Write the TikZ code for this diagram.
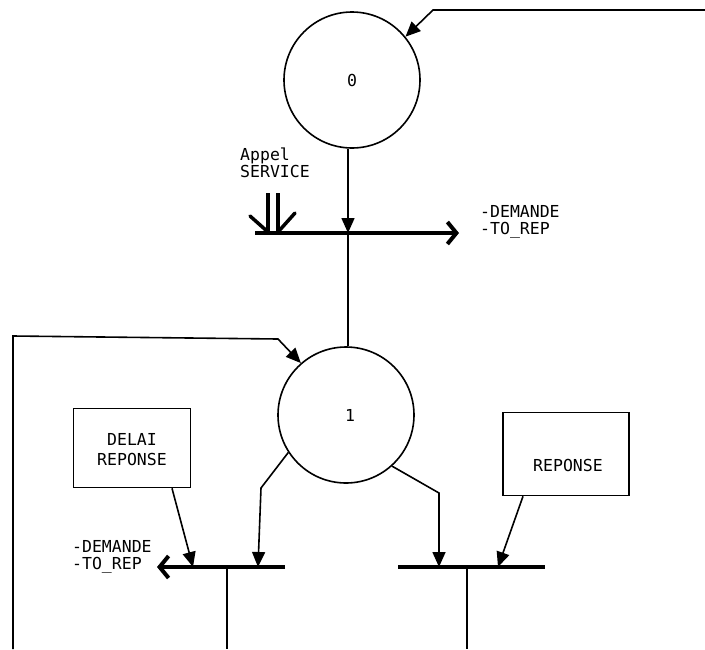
\documentclass[tikz,border=0pt]{standalone}
\usepackage{fontspec}
\setmonofont{DejaVu Sans Mono}
\usetikzlibrary{arrows.meta}
\begin{document}
\begin{tikzpicture}[x=1pt,y=-1pt,
  every node/.style={font=\ttfamily\fontsize{16.5}{20}\selectfont},
  place/.style={draw,circle,line width=1.6pt,minimum size=136pt,inner sep=0pt},
  delaybox/.style={draw,rectangle,line width=1.6pt,inner sep=0pt},
  arc/.style={line width=1.6pt,-{Triangle[length=15pt,width=13pt]}},
  wire/.style={line width=1.6pt},
  bar/.style={line width=4pt},
  barout/.style={line width=4pt,-{Straight Barb[length=9pt,width=22pt]}},
  lbl/.style={anchor=west,inner sep=0pt,align=left}]
\useasboundingbox (0,0) rectangle (705,649);

% places
\node[place] (p0) at (352,80) {0};
\node[place] (p1) at (346,415) {\hspace*{8pt}1};

% boxes
\node[delaybox,minimum width=117pt,minimum height=79pt] (delai) at (132,448) {};
\node[align=center,inner sep=0pt] (delaitxt) at (132,450) {DELAI\\REPONSE};
\node[delaybox,minimum width=126pt,minimum height=83pt] (rep) at (566,454) {};
\node[inner sep=0pt] (reptxt) at (568,465) {REPONSE};

% transition 0
\coordinate (t0L) at (255,233);
\coordinate (t0) at (348,233);
\coordinate (t0R) at (459,233);
\draw[barout] (t0L) -- (t0R);
\draw[arc] (p0.south -| t0) -- (t0);
\draw[wire] (t0) -- (p1.north -| t0);

% Appel SERVICE double arrow
\node[lbl] (appel) at (240,163) {Appel\\[-3pt]SERVICE};
\coordinate (a1t) at (268,193);
\coordinate (a1b) at (268,232);
\coordinate (a2t) at (278,193);
\coordinate (a2b) at (278,232);
\coordinate (a1w) at (250,216);
\coordinate (a2w) at (295,213);
\draw[line width=3.5pt] (a1t) -- (a1b) (a2t) -- (a2b);
\draw[line width=3.5pt,line cap=round] (a1w) -- (a1b) (a2w) -- (a2b);

\node[lbl] (dem0) at (480,222) {-DEMANDE\\[-3pt]-TO\_REP};

% top feedback into place 0
\coordinate (fbR) at (705,10);
\coordinate (fbK) at (433,10);
\draw[arc] (fbR) -- (fbK) -- (p0.39);

% left feedback into place 1
\coordinate (lfB) at (13,649);
\coordinate (lfT) at (13,336);
\coordinate (lfK) at (278,339);
\draw[arc] (lfB) -- (lfT) -- (lfK) -- (p1.131);

% transition 1 (left)
\coordinate (t1L) at (157,567);
\coordinate (t1R) at (285,567);
\coordinate (t1) at (227,567);
\coordinate (t1a) at (258,567);
\coordinate (t1b) at (193,567);
\coordinate (t1bot) at (227,649);
\draw[barout] (t1R) -- (t1L);
\draw[wire] (t1) -- (t1bot);
\coordinate (k1) at (261,488);
\draw[arc] (p1.213) -- (k1) -- (t1a);
\draw[arc] (delai.south -| 172,0) -- (t1b);

% transition 2 (right)
\coordinate (t2L) at (398,567);
\coordinate (t2R) at (545,567);
\coordinate (t2) at (467,567);
\coordinate (t2a) at (439,567);
\coordinate (t2b) at (498,567);
\coordinate (t2bot) at (467,649);
\draw[bar] (t2L) -- (t2R);
\draw[wire] (t2) -- (t2bot);
\coordinate (k2) at (439,493);
\draw[arc] (p1.312) -- (k2) -- (t2a);
\draw[arc] (rep.south -| 523,0) -- (t2b);

\node[lbl] (dem1) at (72,557) {-DEMANDE\\[-3pt]-TO\_REP};
\end{tikzpicture}
\end{document}
